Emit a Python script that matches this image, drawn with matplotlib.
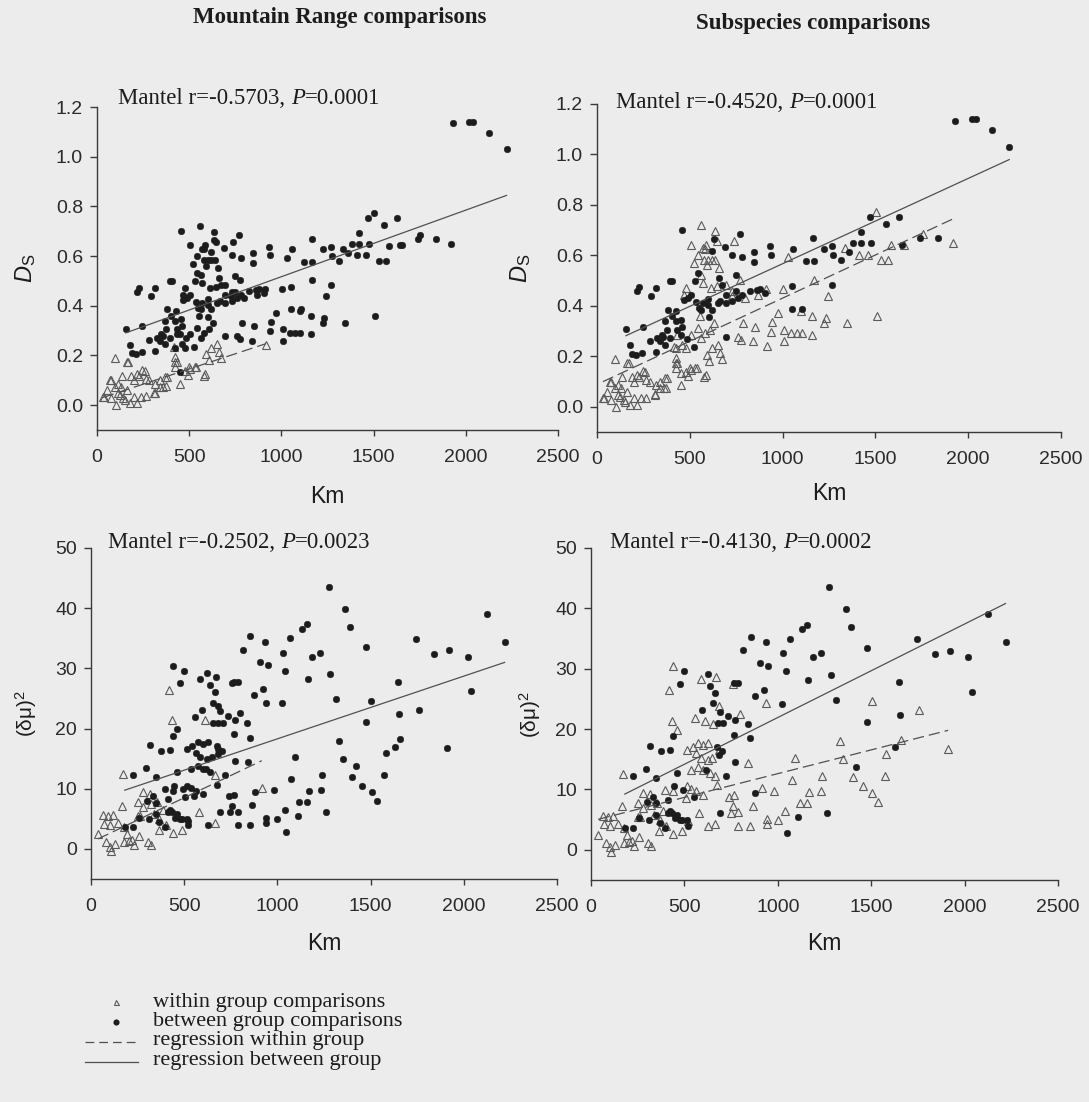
import numpy as np
import matplotlib
matplotlib.use("Agg")
import matplotlib.pyplot as plt
from matplotlib.lines import Line2D

# ---------------- data ----------------
x_ticks = [0, 500, 1000, 1500, 2000, 2500]
ds_ticks = [0.0, 0.2, 0.4, 0.6, 0.8, 1.0, 1.2]
dmu_ticks = [0, 10, 20, 30, 40, 50]

panel_titles = ["Mountain Range comparisons", "Subspecies comparisons"]
mantel_r = ["-0.5703", "-0.4520", "-0.2502", "-0.4130"]
mantel_p = ["0.0001", "0.0001", "0.0023", "0.0002"]

legend_labels = ["within group comparisons", "between group comparisons",
                 "regression within group", "regression between group"]

# Ds vs km: pairs within the same mountain range (also within subspecies)
ds_within_range = [
    (32, 0.033), (38, 0.034), (56, 0.06), (69, 0.10), (76, 0.10), (78, 0.027), (95, 0.188),
    (97, 0.073), (104, 0.0), (113, 0.047), (115, 0.086), (125, 0.04), (132, 0.074), (134, 0.119),
    (143, 0.027), (151, 0.02), (162, 0.06), (162, 0.172), (170, 0.174), (180, 0.007), (186, 0.119),
    (198, 0.034), (199, 0.10), (217, 0.127), (218, 0.007), (227, 0.119), (237, 0.033), (246, 0.141),
    (261, 0.139), (265, 0.107), (265, 0.036), (283, 0.10), (311, 0.049), (312, 0.047), (317, 0.086),
    (339, 0.073), (340, 0.10), (359, 0.074), (367, 0.113), (373, 0.076), (378, 0.114), (416, 0.235),
    (423, 0.152), (425, 0.194), (425, 0.174), (432, 0.172), (450, 0.087), (479, 0.139), (491, 0.121),
    (501, 0.154), (507, 0.146), (529, 0.152), (539, 0.154), (578, 0.119), (586, 0.127), (591, 0.206),
    (605, 0.181), (618, 0.232), (650, 0.245), (662, 0.215), (671, 0.188), (917, 0.241)]
# Ds vs km: different mountain ranges but same subspecies
ds_within_subsp = [
    (559, 0.72), (637, 0.696), (507, 0.643), (572, 0.63), (581, 0.627), (578, 0.583), (600, 0.583),
    (618, 0.583), (638, 0.583), (656, 0.55), (522, 0.568), (646, 0.656), (740, 0.656), (773, 0.504),
    (479, 0.471), (469, 0.444), (563, 0.524), (572, 0.49), (615, 0.471), (646, 0.477), (693, 0.484),
    (730, 0.457), (727, 0.438), (796, 0.431), (870, 0.444), (913, 0.468), (1002, 0.468), (1028, 0.593),
    (973, 0.371), (1010, 0.305), (945, 0.335), (936, 0.298), (851, 0.318), (786, 0.331), (758, 0.278),
    (777, 0.265), (838, 0.259), (1010, 0.259), (1047, 0.292), (1075, 0.292), (1103, 0.292),
    (1159, 0.285), (1099, 0.38), (1159, 0.358), (1243, 0.438), (1233, 0.351), (1224, 0.331),
    (1345, 0.331), (1509, 0.358), (1168, 0.504), (1336, 0.63), (1410, 0.603), (1460, 0.603),
    (1503, 0.773), (1528, 0.58), (1569, 0.58), (1584, 0.64), (1652, 0.643), (1754, 0.683),
    (1919, 0.65), (563, 0.272), (544, 0.312), (553, 0.358), (582, 0.292), (609, 0.305), (628, 0.331),
    (479, 0.232), (423, 0.232), (460, 0.245), (507, 0.285), (432, 0.285), (451, 0.133), (587, 0.643),
    (545, 0.60), (590, 0.56)]
# Ds vs km: different subspecies
ds_between = [
    (1928, 1.134), (2020, 1.14), (2040, 1.14), (2128, 1.095), (2221, 1.03), (456, 0.70), (771, 0.685),
    (632, 0.663), (690, 0.634), (730, 0.603), (781, 0.593), (848, 0.614), (848, 0.574), (932, 0.636),
    (939, 0.603), (1056, 0.627), (1164, 0.667), (1125, 0.577), (1168, 0.577), (1224, 0.627),
    (1267, 0.636), (1274, 0.60), (1313, 0.58), (1360, 0.614), (1382, 0.65), (1423, 0.693),
    (1423, 0.65), (1470, 0.752), (1475, 0.65), (1559, 0.725), (1628, 0.752), (1643, 0.643),
    (1740, 0.667), (1839, 0.667), (1051, 0.477), (1051, 0.389), (1107, 0.389), (1267, 0.484),
    (693, 0.278), (525, 0.235), (604, 0.354), (563, 0.385), (600, 0.428), (665, 0.42), (693, 0.444),
    (749, 0.457), (781, 0.442), (827, 0.46), (879, 0.468), (907, 0.451), (864, 0.464), (659, 0.51),
    (674, 0.484), (747, 0.521), (529, 0.50), (544, 0.53), (618, 0.617), (395, 0.50), (405, 0.50),
    (428, 0.378), (455, 0.345), (469, 0.424), (488, 0.43), (507, 0.444), (535, 0.415), (548, 0.39),
    (572, 0.411), (600, 0.404), (618, 0.385), (650, 0.411), (693, 0.411), (730, 0.418), (758, 0.431),
    (423, 0.338), (376, 0.305), (358, 0.278), (395, 0.272), (339, 0.259), (367, 0.245), (432, 0.305),
    (460, 0.318), (404, 0.358), (367, 0.338), (380, 0.385), (451, 0.285), (156, 0.308), (246, 0.318),
    (218, 0.457), (227, 0.473), (292, 0.438), (317, 0.471), (212, 0.206), (242, 0.212), (317, 0.219),
    (324, 0.272), (283, 0.261), (348, 0.285), (484, 0.269), (189, 0.21), (178, 0.244)]

# (delta mu)^2 vs km
dmu_within_range = [
    (38, 2.4), (62, 5.6), (90, 5.4), (119, 5.6), (72, 4.2), (100, 3.9), (81, 1.1), (100, 0.4),
    (109, -0.3), (128, 0.8), (147, 4.3), (166, 7.2), (170, 12.5), (175, 3.6), (194, 2.5), (204, 1.3),
    (232, 0.7), (175, 1.1), (251, 5.4), (251, 7.8), (279, 9.4), (307, 1.1), (322, 0.6), (336, 5.8),
    (420, 26.4), (434, 21.4), (609, 21.4), (580, 6.1), (486, 3.1), (439, 2.6), (354, 7.8), (388, 6.4),
    (665, 12.2), (665, 4.3), (916, 10.2), (364, 3.1), (279, 6.9), (218, 1.4), (255, 2.2), (320, 7.5),
    (264, 5.5), (367, 5.0), (404, 3.9), (317, 9.2)]
dmu_within_subsp = [
    (438, 30.4), (587, 28.3), (668, 28.6), (758, 27.5), (460, 19.9), (557, 21.9), (655, 20.9),
    (683, 23.8), (799, 22.5), (939, 24.3), (1503, 24.6), (1758, 23.1), (1912, 16.7), (1660, 18.2),
    (1581, 15.9), (1331, 18.0), (1350, 15.0), (1400, 12.0), (1572, 12.2), (1456, 10.5), (1506, 9.4),
    (1534, 8.0), (1093, 15.2), (1074, 11.6), (1238, 12.2), (1233, 9.8), (1167, 9.6), (1117, 7.8),
    (1158, 7.8), (1041, 6.5), (1000, 5.0), (940, 5.1), (940, 4.3), (981, 9.8), (842, 14.4), (866, 7.3),
    (786, 4.0), (851, 4.0), (767, 9.0), (786, 6.2), (758, 7.2), (627, 4.0), (520, 4.7), (506, 8.6),
    (534, 10.1), (516, 16.6), (544, 17.1), (572, 17.7), (600, 17.4), (627, 17.7), (562, 16.0),
    (587, 15.2), (624, 14.9), (650, 15.2), (683, 16.6), (534, 13.3), (572, 13.8), (600, 13.3),
    (637, 12.7), (516, 10.5), (562, 9.7), (600, 9.1), (674, 10.7), (739, 8.8), (748, 6.1), (395, 9.9),
    (441, 9.7)]
dmu_between = [
    (1275, 43.5), (1363, 39.9), (1391, 36.9), (2126, 39.1), (2219, 34.4), (1745, 34.9), (1478, 33.5),
    (1648, 27.8), (1842, 32.4), (1922, 33.0), (2020, 31.9), (2039, 26.2), (1652, 22.4), (1629, 17.0),
    (1475, 21.1), (1313, 24.9), (1283, 29.0), (1229, 32.6), (1186, 31.9), (1162, 28.2), (1130, 36.6),
    (1158, 37.3), (1065, 35.0), (1028, 32.6), (1043, 29.6), (1022, 24.2), (855, 35.3), (935, 34.4),
    (907, 31.0), (948, 30.5), (877, 25.5), (924, 26.5), (814, 33.1), (838, 20.9), (851, 18.5),
    (767, 27.7), (786, 27.7), (771, 21.5), (734, 22.1), (767, 19.1), (773, 14.6), (721, 12.2),
    (693, 22.9), (665, 26.0), (637, 27.2), (624, 29.2), (595, 23.1), (655, 24.3), (680, 21.0),
    (708, 21.0), (674, 17.1), (683, 15.7), (618, 13.3), (702, 16.3), (497, 29.6), (479, 27.5),
    (441, 18.8), (223, 12.3), (296, 13.4), (315, 17.2), (376, 16.3), (423, 16.5), (348, 11.9),
    (460, 12.7), (445, 10.5), (413, 8.3), (492, 9.9), (553, 8.8), (181, 3.6), (227, 3.6), (259, 5.2),
    (311, 5.0), (348, 5.8), (367, 4.4), (395, 3.6), (413, 6.1), (432, 6.1), (460, 5.8), (488, 5.0),
    (450, 5.2), (516, 4.9), (520, 3.9), (302, 8.0), (330, 8.8), (348, 7.7), (423, 6.4), (479, 5.0),
    (693, 6.1), (879, 9.4), (1108, 5.5), (1047, 2.8), (1261, 6.1), (1419, 13.8)]

# regression lines: (intercept, slope per km)
fit_range_ds_within = (0.023, 0.000245)
fit_range_ds_between = (0.249, 0.000268)
fit_subsp_ds_within = (0.0886, 0.000342)
fit_subsp_ds_between = (0.229, 0.000338)
fit_range_dmu_within = (1.1, 0.0148)
fit_range_dmu_between = (7.87, 0.01042)
fit_subsp_dmu_within = (4.75, 0.00787)
fit_subsp_dmu_between = (6.43, 0.01549)

# ---------------- styling ----------------
plt.rcParams['font.family'] = ['Liberation Sans', 'DejaVu Sans']
plt.rcParams['mathtext.fontset'] = 'custom'
plt.rcParams['mathtext.rm'] = 'Liberation Sans'
plt.rcParams['mathtext.it'] = 'Liberation Sans:italic'
plt.rcParams['mathtext.bf'] = 'Liberation Sans:bold'

W, H = 1089, 1102
BG = '#ececec'
INK = '#1c1c1c'
AX = '#3a3a3a'
LINE = '#505050'
SERIF = ['Liberation Serif', 'DejaVu Serif']

fig = plt.figure(figsize=(W / 100, H / 100), dpi=100)
fig.patch.set_facecolor(BG)


def fx(x):
    return x / W


def fy(y):
    return 1 - y / H


def arr(pairs):
    a = np.array(pairs, dtype=float)
    return a[:, 0], a[:, 1]


def style_axes(ax, ylim, yticks, yfmt):
    ax.set_facecolor('none')
    for s in ('top', 'right'):
        ax.spines[s].set_visible(False)
    for s in ('left', 'bottom'):
        ax.spines[s].set_color(AX)
        ax.spines[s].set_linewidth(1.0)
    ax.set_xlim(0, 2500)
    ax.set_ylim(*ylim)
    ax.set_xticks(x_ticks)
    ax.set_yticks(yticks)
    ax.set_yticklabels([yfmt(v) for v in yticks])
    ax.tick_params(axis='both', direction='out', color=AX, width=1.0,
                   labelsize=14, labelcolor='#2a2a2a')
    ax.tick_params(axis='y', length=5, pad=5)
    ax.tick_params(axis='x', length=4, pad=10)


def plot_group(ax, pairs_list, kind):
    x = np.concatenate([arr(p)[0] for p in pairs_list])
    y = np.concatenate([arr(p)[1] for p in pairs_list])
    if kind == 'tri':
        ax.plot(x, y, linestyle='none', marker='^', ms=5.6, mfc='none',
                mec='#5a5a5a', mew=0.8, zorder=2, clip_on=False)
    else:
        ax.plot(x, y, linestyle='none', marker='o', ms=4.8, mfc=INK,
                mec=INK, mew=0.3, zorder=3, clip_on=False)
    return x


def fit_line(ax, xs, coef, dashed):
    x = np.array([xs.min(), xs.max()])
    y = coef[0] + coef[1] * x
    ln, = ax.plot(x, y, color=LINE, lw=0.9, zorder=4)
    if dashed:
        ln.set_dashes((9, 4))


def mantel(x, y, r, p):
    t1 = fig.text(fx(x), fy(y), "Mantel r=" + r + ", ", family=SERIF,
                  fontsize=16.5, color=INK, ha='left', va='center')
    a2 = plt.annotate("P", xy=(1, 0), xycoords=t1, ha='left', va='bottom',
                      family=SERIF, style='italic', fontsize=16.5, color=INK,
                      annotation_clip=False)
    plt.annotate("=" + p, xy=(1, 0), xycoords=a2, ha='left', va='bottom',
                 family=SERIF, fontsize=16.5, color=INK, annotation_clip=False)


# axes rectangles in pixels: (left, right, top, bottom)
rects = [(97, 558, 107, 430), (597, 1061, 104, 432),
         (91, 557, 548, 879), (591, 1058, 548, 880)]
axes = []
for (l, r, t, b) in rects:
    axes.append(fig.add_axes([fx(l), fy(b), (r - l) / W, (b - t) / H]))

ds_fmt = lambda v: "%.1f" % v
dmu_fmt = lambda v: "%d" % v

# --- top-left: mountain range, Ds
ax = axes[0]
style_axes(ax, (-0.1, 1.2), ds_ticks, ds_fmt)
xw = plot_group(ax, [ds_within_range], 'tri')
xb = plot_group(ax, [ds_within_subsp, ds_between], 'dot')
fit_line(ax, xw, fit_range_ds_within, True)
fit_line(ax, xb, fit_range_ds_between, False)

# --- top-right: subspecies, Ds
ax = axes[1]
style_axes(ax, (-0.1, 1.2), ds_ticks, ds_fmt)
xw = plot_group(ax, [ds_within_range, ds_within_subsp], 'tri')
xb = plot_group(ax, [ds_between], 'dot')
fit_line(ax, xw, fit_subsp_ds_within, True)
fit_line(ax, xb, fit_subsp_ds_between, False)

# --- bottom-left: mountain range, dmu
ax = axes[2]
style_axes(ax, (-5, 50), dmu_ticks, dmu_fmt)
xw = plot_group(ax, [dmu_within_range], 'tri')
xb = plot_group(ax, [dmu_within_subsp, dmu_between], 'dot')
fit_line(ax, xw, fit_range_dmu_within, True)
fit_line(ax, xb, fit_range_dmu_between, False)

# --- bottom-right: subspecies, dmu
ax = axes[3]
style_axes(ax, (-5, 50), dmu_ticks, dmu_fmt)
xw = plot_group(ax, [dmu_within_range, dmu_within_subsp], 'tri')
xb = plot_group(ax, [dmu_between], 'dot')
fit_line(ax, xw, fit_subsp_dmu_within, True)
fit_line(ax, xb, fit_subsp_dmu_between, False)

# axis labels
km_y = [(497 - 430) / 323, (493 - 432) / 328, (943 - 879) / 331, (943 - 880) / 332]
ylab_x = [(26 - 97) / 461, (521 - 597) / 464, (26 - 91) / 466, (530 - 591) / 467]
ylabels = [r'$D_{\mathrm{S}}$', r'$D_{\mathrm{S}}$', r'(δμ)$^2$', r'(δμ)$^2$']
ylab_size = [17, 17, 15, 15]
for i, ax in enumerate(axes):
    ax.set_xlabel("Km", fontsize=16.5, color=INK, va='center')
    ax.xaxis.set_label_coords(0.5, -km_y[i])
    ax.set_ylabel(ylabels[i], fontsize=ylab_size[i], color=INK, va='center')
    ax.yaxis.set_label_coords(ylab_x[i], 0.5)

# titles
fig.text(fx(340), fy(18), panel_titles[0], family=SERIF, weight='bold',
         fontsize=16.5, color=INK, ha='center', va='center')
fig.text(fx(813), fy(23), panel_titles[1], family=SERIF, weight='bold',
         fontsize=16.5, color=INK, ha='center', va='center')

# Mantel annotations
mantel(118, 98, mantel_r[0], mantel_p[0])
mantel(616, 102, mantel_r[1], mantel_p[1])
mantel(108, 543, mantel_r[2], mantel_p[2])
mantel(610, 543, mantel_r[3], mantel_p[3])

# legend (manual, to match the tight line spacing of the original)
rows = [1002, 1021.5, 1041, 1060.5]
fig.add_artist(Line2D([fx(116)], [fy(rows[0])], transform=fig.transFigure, marker='^',
                      ms=3.6, mfc='none', mec='#5a5a5a', mew=0.8, linestyle='none'))
fig.add_artist(Line2D([fx(116)], [fy(rows[1])], transform=fig.transFigure, marker='o',
                      ms=3.4, mfc=INK, mec=INK, linestyle='none'))
dl = Line2D([fx(85), fx(138)], [fy(rows[2] + 1)] * 2, transform=fig.transFigure,
            color=LINE, lw=0.9)
dl.set_dashes((7, 4))
fig.add_artist(dl)
fig.add_artist(Line2D([fx(85), fx(138)], [fy(rows[3] + 1)] * 2, transform=fig.transFigure,
                      color=LINE, lw=0.9))
for yy, lab in zip(rows, legend_labels):
    fig.text(fx(153), fy(yy), lab, family=SERIF, fontsize=16, color=INK,
             ha='left', va='center')

fig.savefig("out.png", dpi=100, facecolor=BG)
